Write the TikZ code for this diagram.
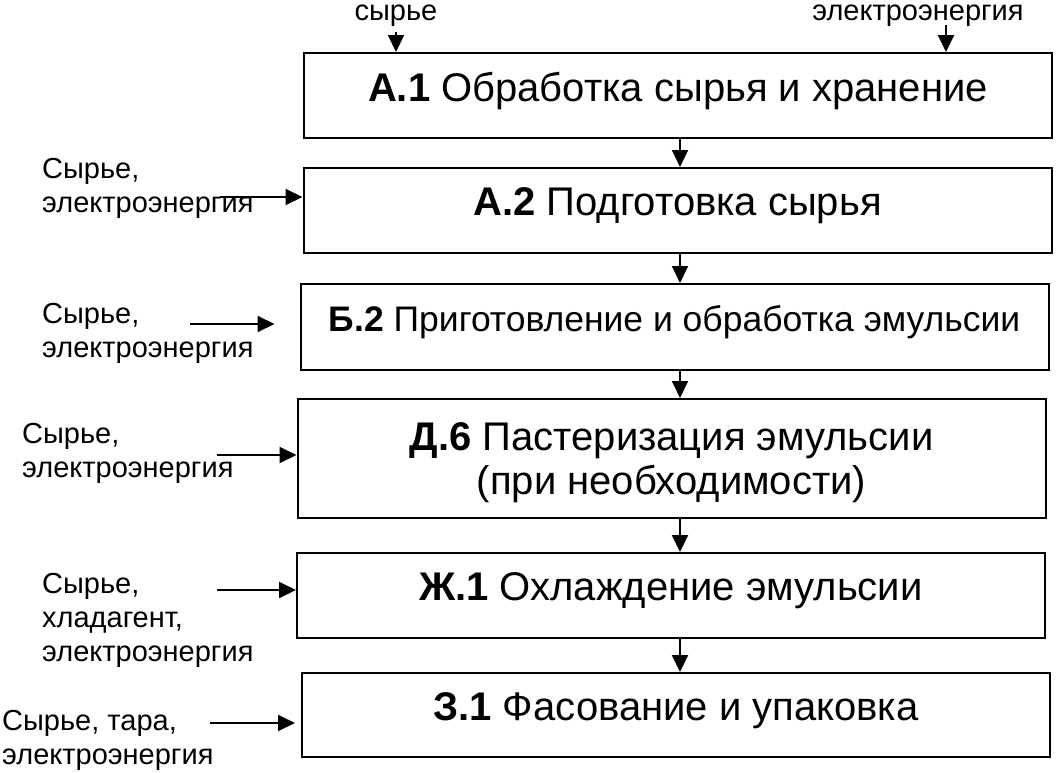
\documentclass[tikz,border=0pt]{standalone}
\usepackage{fontspec}
\setmainfont{Liberation Sans}
\usetikzlibrary{arrows.meta,positioning}

\begin{document}
\begin{tikzpicture}[x=1pt,y=-1pt]
\tikzset{blk/.style={draw=black,line width=2pt,minimum width=748pt,minimum height=85pt,inner sep=0pt,align=center,text depth=17pt,font=\fontsize{40}{44}\selectfont}}
\tikzset{src/.style={inner sep=0pt,align=left,anchor=north west,font=\fontsize{29}{34}\selectfont}}
\tikzset{arr/.style={-{Triangle[length=17pt,width=16pt]},line width=2pt}}

\useasboundingbox (0,0) rectangle (1061,772);

% process steps
\node [blk] (a1) at (678,95.5) {\textbf{А.1} Обработка сырья и хранение};
\node [blk] (a2) at (677.5,210.5) {\textbf{А.2} Подготовка сырья};
\node [blk,minimum height=86pt,font=\fontsize{35.5}{40}\selectfont] (b2) at (674.5,327) {\textbf{Б.2} Приготовление и обработка эмульсии};
\node [blk,minimum height=119pt,text depth=0pt] (d6) at (671.5,458.5) {\textbf{Д.6} Пастеризация эмульсии\\(при необходимости)};
\node [blk] (zh1) at (671,595.5) {\textbf{Ж.1} Охлаждение эмульсии};
\node [blk,minimum height=84pt] (z1) at (676,715) {\textbf{З.1} Фасование и упаковка};

% inputs on top
\node [inner sep=0pt,anchor=base,font=\fontsize{29}{34}\selectfont] (tl1) at (396,20) {сырье};
\node [inner sep=0pt,anchor=base,font=\fontsize{29}{34}\selectfont] (tl2) at (918,20) {электроэнергия};
\coordinate (t1) at (396,32);
\coordinate (t2) at (946,25);
\draw [arr] (t1) -- (t1 |- a1.north);
\draw [arr] (t2) -- (t2 |- a1.north);

% flow
\coordinate (axis) at (680,0);
\foreach \u/\v in {a1/a2,a2/b2,b2/d6,d6/zh1,zh1/z1}
  \draw [arr] (\u.south -| axis) -- (\v.north -| axis);

% inputs on the left
\node [src] (s2) at (42,158) {Сырье,\\электроэнергия};
\node [src] (sb2) at (42,303) {Сырье,\\электроэнергия};
\node [src] (sd6) at (22,423) {Сырье,\\электроэнергия};
\node [src] (szh1) at (42,573) {Сырье,\\хладагент,\\электроэнергия};
\node [src] (sz1) at (2,710) {Сырье, тара,\\электроэнергия};

\coordinate (i2) at (220,197);
\coordinate (ib2) at (190,324);
\coordinate (id6) at (217,455);
\coordinate (izh1) at (217,590);
\coordinate (iz1) at (210,723);
\draw [arr] (i2) -- (i2 -| a2.west);
\draw [arr] (ib2) -- ([xshift=-25pt]ib2 -| b2.west);
\draw [arr] (id6) -- (id6 -| d6.west);
\draw [arr] (izh1) -- (izh1 -| zh1.west);
\draw [arr] (iz1) -- ([xshift=-6pt]iz1 -| z1.west);
\end{tikzpicture}
\end{document}
